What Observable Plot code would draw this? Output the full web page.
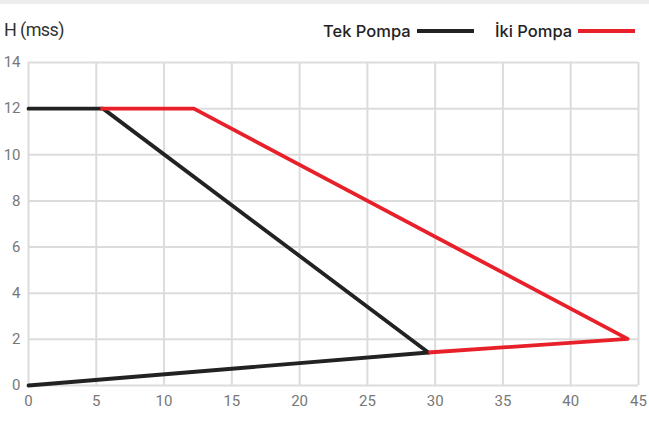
<!DOCTYPE html>
<html><head><meta charset="utf-8">
<script src="https://cdn.jsdelivr.net/npm/d3@7"></script>
<script src="https://cdn.jsdelivr.net/npm/@observablehq/plot@0.6"></script>
<style>
body{margin:0;background:#fff;width:649px;height:424px;overflow:hidden;position:relative;font-family:"Open Sans",sans-serif}
#topbar{position:absolute;left:0;top:0;width:649px;height:4px;background:#ececec}
#ytitle{position:absolute;left:4px;top:19px;font-family:"Liberation Sans Narrow","Roboto",sans-serif;font-size:18px;color:#333;letter-spacing:-0.6px}
.leg{position:absolute;top:21px;font-family:Inter,"Open Sans",sans-serif;font-size:16.5px;color:#222;font-weight:500;display:flex;align-items:center;letter-spacing:0px}
.leg span.sw{display:inline-block;width:57px;height:4px;margin-left:6px}
#chart{position:absolute;left:0;top:0}
</style></head><body>
<div id="topbar"></div>
<div id="ytitle">H (mss)</div>
<div class="leg" id="leg1" style="left:323px">Tek Pompa<span class="sw" style="background:#222"></span></div>
<div class="leg" id="leg2" style="left:495px">İki Pompa<span class="sw" style="background:#e8202a"></span></div>
<div id="chart"></div>
<script>
const seriesNames = ["Tek Pompa", "İki Pompa"];
const seriesColors = ["#222222", "#e8202a"];
// Tek Pompa curve (Q, H)
const tekQ = [0, 5.5, 29.5];
const tekH = [12, 12, 1.43];
// system line segment (black part)
const sysQ = [0, 29.5];
const sysH = [0, 1.43];
// İki Pompa curve
const ikiQ = [5.3, 12.2, 44.2, 29.5];
const ikiH = [12, 12, 2.02, 1.43];
const xTicks = [0,5,10,15,20,25,30,35,40,45];
const yTicks = [0,2,4,6,8,10,12,14];

const tek = tekQ.map((q,i)=>({q, h: tekH[i]}));
const sys = sysQ.map((q,i)=>({q, h: sysH[i]}));
const iki = ikiQ.map((q,i)=>({q, h: ikiH[i]}));

const chart = Plot.plot({
  width: 649, height: 424,
  marginLeft: 28, marginRight: 11, marginTop: 62, marginBottom: 39,
  x: {domain: [0,45], ticks: xTicks},
  y: {domain: [0,14], ticks: yTicks},
  style: {fontFamily: '"Liberation Sans Narrow", Roboto, sans-serif', fontSize: "15px", color: "#777", background: "transparent"},
  marks: [
    Plot.gridX(xTicks, {stroke: "#dcdcdc", strokeOpacity: 1, strokeWidth: 2}),
    Plot.gridY(yTicks, {stroke: "#dcdcdc", strokeOpacity: 1, strokeWidth: 2}),
    Plot.axisX(xTicks, {tickSize: 0, tickPadding: 10, label: null, fill: "#777"}),
    Plot.axisY(yTicks, {tickSize: 0, tickPadding: 8, label: null, fill: "#777"}),
    Plot.line(tek, {x: "q", y: "h", stroke: seriesColors[0], strokeWidth: 3.8, strokeLinejoin: "round", strokeLinecap: "round"}),
    Plot.line(sys, {x: "q", y: "h", stroke: seriesColors[0], strokeWidth: 3.8, strokeLinecap: "round"}),
    Plot.line(iki, {x: "q", y: "h", stroke: seriesColors[1], strokeWidth: 3.8, strokeLinejoin: "round", strokeLinecap: "butt"})
  ]
});
document.getElementById("chart").append(chart);
</script>
</body></html>
